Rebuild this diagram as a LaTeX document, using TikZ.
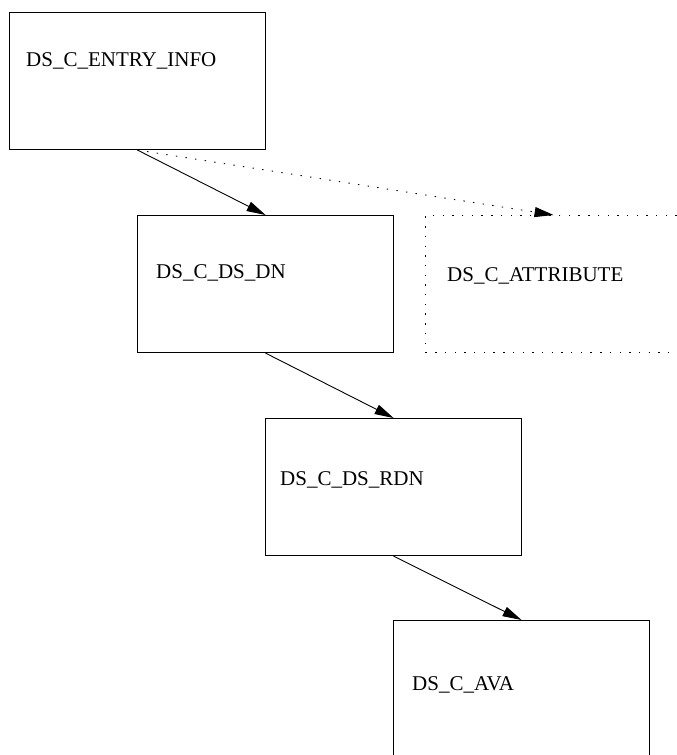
\documentclass[tikz,border=0pt]{standalone}
\usepackage{fontspec}
\setmainfont{Liberation Serif}
\usetikzlibrary{arrows.meta}
\tikzset{
  box/.style={draw, line width=1.1pt, minimum width=256pt, minimum height=137pt, inner sep=0pt, anchor=north west},
  dotbox/.style={box, dash pattern=on 1.4pt off 8.3pt},
  lbl/.style={anchor=west, inner sep=0pt, font=\fontsize{21}{25}\selectfont},
  link/.style={line width=0.9pt, -{Triangle[length=19pt,width=10pt]}},
  dotlink/.style={link, dash pattern=on 1.4pt off 8.3pt}
}
\begin{document}
\begin{tikzpicture}[x=1pt,y=1pt]
  \useasboundingbox (0,0) rectangle (677,-755);
  \clip (0,0) rectangle (677,-755);
  % class boxes
  \node[box] (entry) at (9,-12) {};
  \node[box] (dn) at (137,-215) {};
  \node[dotbox] (attr) at (425,-215) {};
  \node[box] (rdn) at (265,-418) {};
  \node[box] (ava) at (393,-620) {};
  % class names
  \node[lbl] (tentry) at (26,-61) {DS\_C\_ENTRY\_INFO};
  \node[lbl] (tdn) at (156,-273) {DS\_C\_DS\_DN};
  \node[lbl] (tattr) at (447,-276) {DS\_C\_ATTRIBUTE};
  \node[lbl] (trdn) at (280,-480) {DS\_C\_DS\_RDN};
  \node[lbl] (tava) at (412,-685) {DS\_C\_AVA};
  % connectors
  \draw[link] (entry.south) -- (dn.north);
  \draw[dotlink] (entry.south) -- (attr.north);
  \draw[link] (dn.south) -- (rdn.north);
  \draw[link] (rdn.south) -- (ava.north);
\end{tikzpicture}
\end{document}
